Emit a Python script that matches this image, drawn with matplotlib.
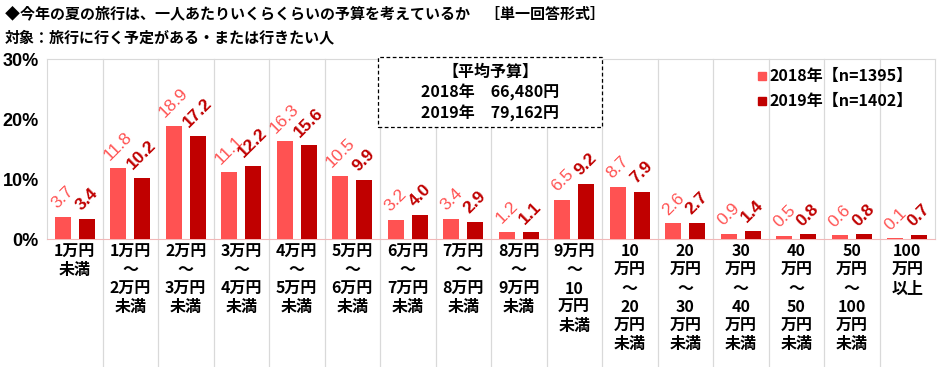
import numpy as np
import matplotlib.pyplot as plt
from matplotlib.patches import Rectangle

plt.rcParams['font.family'] = ['Noto Sans CJK JP', 'DejaVu Sans']

categories = ['1万円\n未満', '1万円\n～\n2万円\n未満', '2万円\n～\n3万円\n未満',
              '3万円\n～\n4万円\n未満', '4万円\n～\n5万円\n未満', '5万円\n～\n6万円\n未満',
              '6万円\n～\n7万円\n未満', '7万円\n～\n8万円\n未満', '8万円\n～\n9万円\n未満',
              '9万円\n～\n10\n万円\n未満', '10\n万円\n～\n20\n万円\n未満',
              '20\n万円\n～\n30\n万円\n未満', '30\n万円\n～\n40\n万円\n未満',
              '40\n万円\n～\n50\n万円\n未満', '50\n万円\n～\n100\n万円\n未満',
              '100\n万円\n以上']
vals_2018 = [3.7, 11.8, 18.9, 11.1, 16.3, 10.5, 3.2, 3.4, 1.2, 6.5, 8.7, 2.6, 0.9, 0.5, 0.6, 0.1]
vals_2019 = [3.4, 10.2, 17.2, 12.2, 15.6, 9.9, 4.0, 2.9, 1.1, 9.2, 7.9, 2.7, 1.4, 0.8, 0.8, 0.7]
legend_labels = ['2018年【n=1395】', '2019年【n=1402】']
avg_lines = ['【平均予算】', '2018年　66,480円', '2019年　79,162円']

c18 = '#FF5252'
c19 = '#C00000'
grid = '#D9D9D9'

fig = plt.figure(figsize=(9.4, 3.67), dpi=100)
ax = fig.add_axes([47 / 940, 128 / 367, 888 / 940, 180 / 367])

x = np.arange(len(categories))
off, w = 0.215, 0.29
ax.bar(x - off, vals_2018, w, color=c18, zorder=3)
ax.bar(x + off, vals_2019, w, color=c19, zorder=3)

for xi, v in zip(x, vals_2018):
    ax.annotate(f'{v:.1f}', (xi - off, v), xytext=(0, 4), textcoords='offset points',
                rotation=45, ha='center', va='bottom', fontsize=12.5, color=c18,
                family='Liberation Sans')
for xi, v in zip(x, vals_2019):
    ax.annotate(f'{v:.1f}', (xi + off, v), xytext=(0, 4), textcoords='offset points',
                rotation=45, ha='center', va='bottom', fontsize=12.5, color=c19,
                fontweight='bold', family='Liberation Sans')

ax.set_xlim(-0.5, len(categories) - 0.5)
ax.set_ylim(0, 30)
ax.set_yticks([0, 10, 20, 30])
ax.set_yticklabels(['0%', '10%', '20%', '30%'], fontsize=13, fontweight='bold',
                   family='Liberation Sans')
ax.tick_params(axis='y', length=0, pad=6)
ax.set_xticks([])
for s in ['top', 'right', 'left']:
    ax.spines[s].set_color(grid)
ax.spines['bottom'].set_color('#F2B8B8')

# category separators, running down through the label area
trans = ax.get_xaxis_transform()
for b in np.arange(0.5, len(categories) - 0.5, 1):
    ax.plot([b, b], [1, -0.72], color=grid, lw=0.9, transform=trans,
            clip_on=False, zorder=1)

for xi, lab in zip(x, categories):
    ax.text(xi, -0.025, lab, transform=trans, ha='center', va='top', fontsize=11.5,
            fontweight='bold', linespacing=1.2)

fig.text(5 / 940, 1 - 13 / 367, '◆今年の夏の旅行は、一人あたりいくらくらいの予算を考えているか　［単一回答形式］',
         fontsize=10.8, fontweight='bold', va='center')
fig.text(5 / 940, 1 - 37 / 367, '対象：旅行に行く予定がある・または行きたい人',
         fontsize=10.8, fontweight='bold', va='center')

# average budget box
fig.patches.append(Rectangle((378 / 940, 1 - 127 / 367), 224 / 940, 70 / 367,
                             transform=fig.transFigure, fill=True, facecolor='white',
                             edgecolor='black', linestyle=(0, (3, 2)), lw=0.9, zorder=5))
for yy, t in zip([72, 92, 113], avg_lines):
    fig.text(490 / 940, 1 - yy / 367, t, ha='center', va='center', fontsize=11.5,
             fontweight='bold', zorder=6)

# legend
for yy, col, t in zip([76, 101], [c18, c19], legend_labels):
    fig.patches.append(Rectangle((758 / 940, 1 - (yy + 4) / 367), 8 / 940, 8 / 367,
                                 transform=fig.transFigure, color=col))
    fig.text(769 / 940, 1 - yy / 367, t, ha='left', va='center', fontsize=11.5,
             fontweight='bold')

fig.savefig('out.png', dpi=100)
